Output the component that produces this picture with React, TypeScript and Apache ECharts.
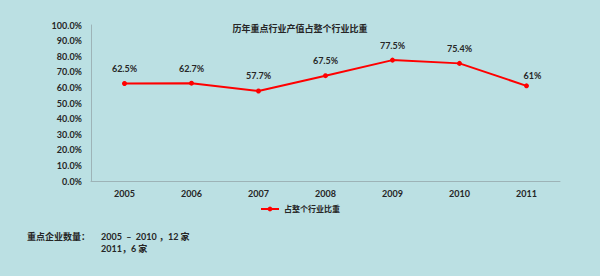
import React, { useEffect, useRef } from "react";
import * as echarts from "echarts";

const categories = ["2005", "2006", "2007", "2008", "2009", "2010", "2011"];
const shareValues = [0.625, 0.627, 0.577, 0.675, 0.775, 0.754, 0.61];
const shareLabels = ["62.5%", "62.7%", "57.7%", "67.5%", "77.5%", "75.4%", "61%"];
const seriesName = "占整个行业比重";
const titleText = "历年重点行业产值占整个行业比重";
const noteLabel = "重点企业数量：";
const noteLines = ["2005  –  2010 ，12 家", "2011，6 家"];

const FONT = "Lato, 'Noto Sans CJK SC', sans-serif";
const TEXT = "#262626";

export default function App() {
  const ref = useRef<HTMLDivElement>(null);
  useEffect(() => {
    if (!ref.current) return;
    const chart = echarts.init(ref.current, undefined, { renderer: "svg" });
    chart.setOption({
      animation: false,
      backgroundColor: "#bbe0e3",
      textStyle: { fontFamily: FONT },
      title: {
        text: titleText,
        left: "center",
        top: 19,
        textStyle: { fontSize: 9, fontWeight: "bold", color: TEXT, fontFamily: FONT },
      },
      legend: {
        data: [seriesName],
        top: 200,
        left: "center",
        itemWidth: 18,
        itemHeight: 6,
        itemGap: 4,
        textStyle: { fontSize: 8, fontWeight: "bold", color: TEXT, fontFamily: FONT },
      },
      grid: { left: 91, right: 40, top: 25, bottom: 95 },
      xAxis: {
        type: "category",
        data: categories,
        boundaryGap: true,
        axisLine: { lineStyle: { color: "#9db3b7", width: 1 } },
        axisTick: { show: false },
        axisLabel: { fontSize: 9, fontWeight: "bold", color: TEXT, margin: 8, fontFamily: FONT },
      },
      yAxis: {
        type: "value",
        min: 0,
        max: 1,
        interval: 0.1,
        splitLine: { show: false },
        axisLine: { show: true, lineStyle: { color: "#9db3b7", width: 1 } },
        axisTick: { show: false },
        axisLabel: {
          fontSize: 9,
          fontWeight: "bold",
          color: TEXT,
          margin: 9,
          fontFamily: FONT,
          formatter: (v: number) => (v * 100).toFixed(1) + "%",
        },
      },
      series: [
        {
          name: seriesName,
          type: "line",
          data: shareValues.map((v, i) =>
            i === shareValues.length - 1
              ? { value: v, label: { offset: [6, 5] } }
              : { value: v }
          ),
          color: "#ff0000",
          symbol: "circle",
          symbolSize: 5,
          lineStyle: { width: 2, color: "#ff0000" },
          itemStyle: { color: "#ff0000" },
          label: {
            show: true,
            position: "top",
            distance: 8,
            fontSize: 9,
            fontWeight: "bold",
            color: TEXT,
            fontFamily: FONT,
            formatter: (p: any) => shareLabels[p.dataIndex],
          },
        },
      ],
      graphic: [
        {
          type: "text",
          left: 27,
          top: 232,
          style: { text: noteLabel, fontSize: 9, fontWeight: "bold", fill: TEXT, fontFamily: FONT },
        },
        {
          type: "text",
          left: 101,
          top: 232,
          style: { text: noteLines[0], fontSize: 9, fontWeight: "bold", fill: TEXT, fontFamily: FONT },
        },
        {
          type: "text",
          left: 101,
          top: 244,
          style: { text: noteLines[1], fontSize: 9, fontWeight: "bold", fill: TEXT, fontFamily: FONT },
        },
      ],
    });
    return () => chart.dispose();
  }, []);
  return (
    <div
      ref={ref}
      style={{ position: "fixed", left: 0, top: 0, width: 600, height: 276 }}
    />
  );
}
